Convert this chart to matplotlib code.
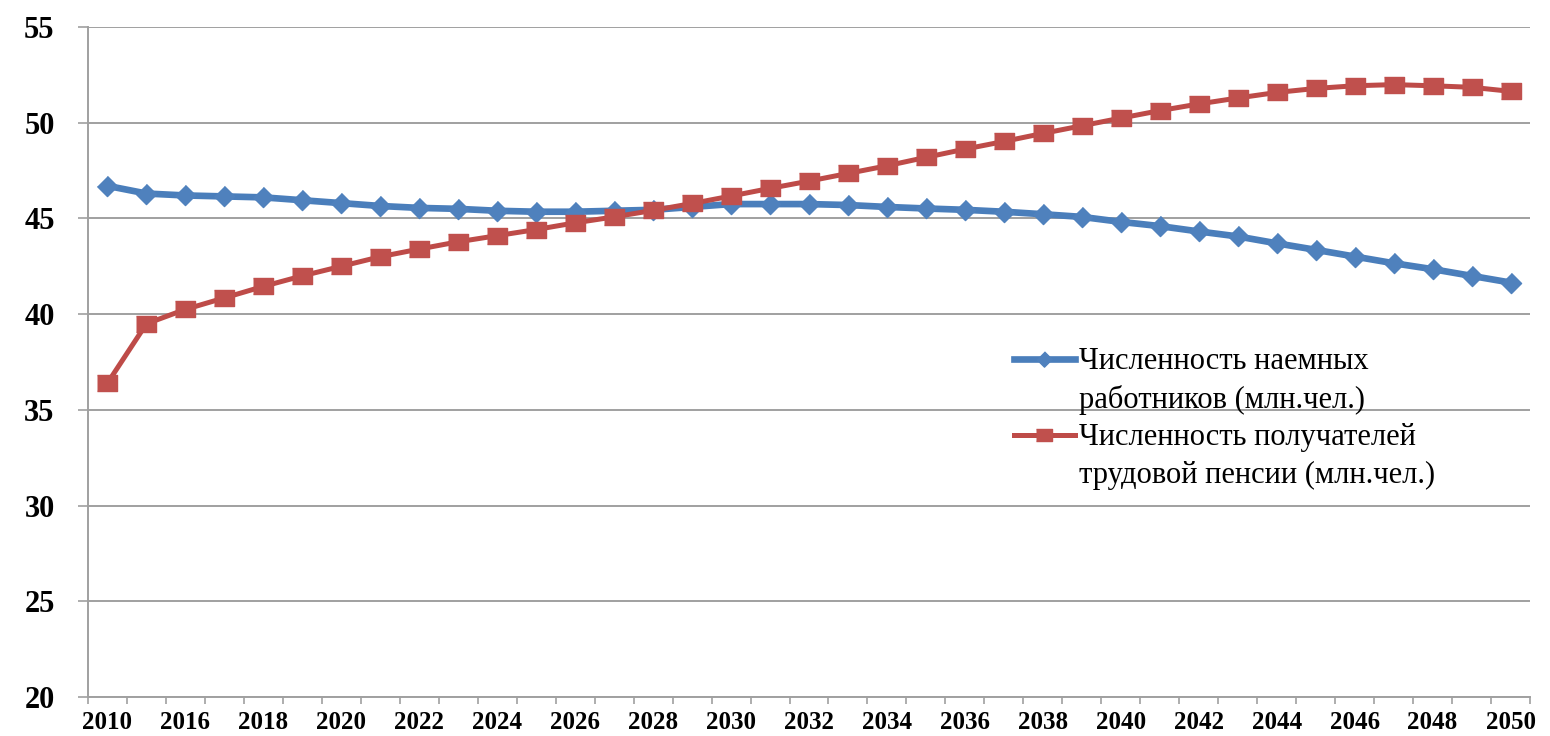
import numpy as np
import matplotlib
matplotlib.use("Agg")
import matplotlib.pyplot as plt
from matplotlib.lines import Line2D

plt.rcParams["font.family"] = ["Liberation Serif", "DejaVu Serif"]

# categories: 2010, then 2015..2050
years = ["2010"] + [str(y) for y in range(2015, 2051)]

# Численность наемных работников (млн.чел.)
workers = [46.7, 46.3, 46.2, 46.15, 46.1, 45.95, 45.8, 45.65, 45.55, 45.5,
           45.4, 45.35, 45.35, 45.4, 45.45, 45.6, 45.75, 45.75, 45.75, 45.7,
           45.6, 45.52, 45.45, 45.35, 45.22, 45.08, 44.82, 44.6, 44.32, 44.06,
           43.7, 43.36, 43.01, 42.66, 42.35, 42.0, 41.65]

# Численность получателей трудовой пенсии (млн.чел.)
pensioners = [36.4, 39.5, 40.25, 40.85, 41.45, 42.0, 42.5, 43.0, 43.4, 43.78,
              44.1, 44.42, 44.77, 45.08, 45.42, 45.78, 46.17, 46.57, 46.95, 47.35,
              47.75, 48.19, 48.62, 49.02, 49.44, 49.84, 50.24, 50.63, 50.98, 51.29,
              51.58, 51.79, 51.93, 51.99, 51.93, 51.85, 51.64]

labels = ["Численность наемных", "работников (млн.чел.)",
          "Численность получателей", "трудовой пенсии (млн.чел.)"]

blue_line, blue_mk = "#4A7EBB", "#4F81BD"
red_line, red_mk = "#BE4B48", "#C0504D"
grid_c = "#A0A0A0"

diamond = [(0, 1), (1, 0), (0, -1), (-1, 0)]
rect = [(-1, -0.75), (1, -0.75), (1, 0.75), (-1, 0.75)]

fig = plt.figure(figsize=(15.5, 7.36), dpi=100)
ax = fig.add_axes([88 / 1550, 1 - 697 / 736, (1530 - 88) / 1550, (697 - 27) / 736])

x = np.arange(len(years))
ax.plot(x, workers, color=blue_line, lw=4.8, marker=diamond, ms=14.5,
        mfc=blue_mk, mec=blue_mk, zorder=3)
ax.plot(x, pensioners, color=red_line, lw=3.6, marker=rect, ms=14.5,
        mfc=red_mk, mec=red_mk, zorder=4)

ax.set_xlim(-0.5, len(years) - 0.5)
ax.set_ylim(20, 55)
ax.set_yticks(np.arange(20, 56, 5))
ax.yaxis.grid(True, color=grid_c, lw=1.4)
ax.set_axisbelow(True)

ax.set_xticks(x[::2], years[::2])
ax.set_xticks(np.arange(-0.5, len(years)), minor=True)
ax.tick_params(axis="x", which="major", length=0, pad=10)
ax.tick_params(axis="x", which="minor", length=5, width=1.2, color=grid_c)
ax.tick_params(axis="y", length=7, width=1.2, color=grid_c, pad=17)
for t in ax.get_xticklabels():
    t.set_fontsize(18)
    t.set_fontweight("bold")
for t in ax.get_yticklabels():
    t.set_fontsize(22)
    t.set_fontweight("bold")

for s in ["top", "right"]:
    ax.spines[s].set_visible(False)
for s in ["left", "bottom"]:
    ax.spines[s].set_color(grid_c)
    ax.spines[s].set_linewidth(1.4)

# legend: marker sits on the first line of each label (Excel style)
blank = Line2D([], [], linestyle="none")
h1 = Line2D([], [], color=blue_line, lw=4.8, marker=diamond, ms=11,
            mfc=blue_mk, mec=blue_mk)
h2 = Line2D([], [], color=red_line, lw=3.6, marker=rect, ms=12,
            mfc=red_mk, mec=red_mk)
ax.legend([h1, blank, h2, blank], labels, loc="upper left",
          bbox_to_anchor=(0.642, 0.522), frameon=False, fontsize=22,
          handlelength=2.0, handletextpad=0.15, labelspacing=0.28,
          borderpad=0, borderaxespad=0)

fig.savefig("out.png", dpi=100)
